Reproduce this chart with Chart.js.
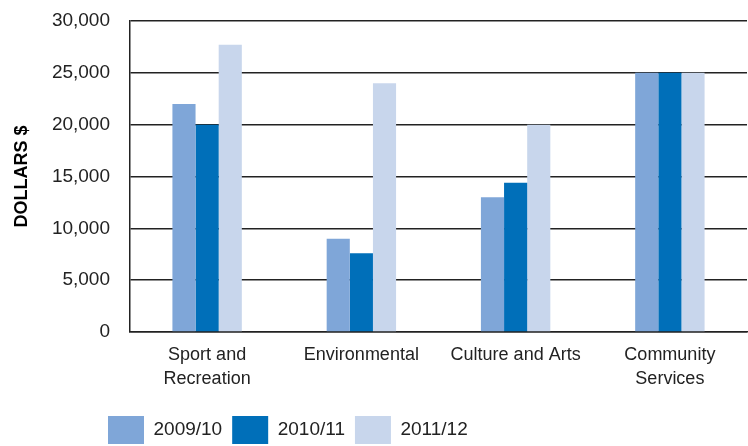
<!DOCTYPE html>
<html>
<head>
<meta charset="utf-8">
<script src="https://cdn.jsdelivr.net/npm/chart.js@4.4.1/dist/chart.umd.min.js"></script>
<style>
  html,body{margin:0;padding:0;background:#fff;}
  #wrap{width:748px;height:446px;position:relative;}
</style>
</head>
<body>
<div id="wrap"><canvas id="chart" width="748" height="446"></canvas></div>
<script>
const categories=[["Sport and","Recreation"],"Environmental","Culture and Arts",["Community","Services"]];
const seriesLabels=["2009/10","2010/11","2011/12"];
const values2009=[22000,9000,13000,25000];
const values2010=[20000,7600,14400,25000];
const values2011=[27700,24000,20000,25000];
const seriesColors=["#7fa6d8","#006fb9","#c8d6ec"];
const yMax=30000, yStep=5000;

const font="'Liberation Sans', Arial, sans-serif";

// move the legend to the left and a bit lower like the original
const legendShift={
  id:"legendShift",
  afterLayout(chart){
    const lg=chart.legend;
    const w=lg.right-lg.left;
    lg.left=98; lg.right=lg.left+w;
    lg.top+=12; lg.bottom+=12;
  }
};

new Chart(document.getElementById("chart").getContext("2d"),{
  type:"bar",
  data:{
    labels:categories,
    datasets:[
      {label:seriesLabels[0],data:values2009,backgroundColor:seriesColors[0]},
      {label:seriesLabels[1],data:values2010,backgroundColor:seriesColors[1]},
      {label:seriesLabels[2],data:values2011,backgroundColor:seriesColors[2]}
    ]
  },
  options:{
    responsive:false,animation:false,
    layout:{padding:{top:21,right:1,left:0,bottom:4}},
    datasets:{bar:{barPercentage:1,categoryPercentage:0.45,borderWidth:0}},
    plugins:{
      legend:{
        position:"bottom",align:"start",
        labels:{boxWidth:36,boxHeight:28,padding:10,color:"#222",font:{family:font,size:19}}
      },
      tooltip:{enabled:false}
    },
    scales:{
      x:{
        grid:{display:false},
        border:{color:"#222",width:1.5},
        ticks:{color:"#222",padding:3,maxRotation:0,font:{family:font,size:18,lineHeight:1.333}}
      },
      y:{
        min:0,max:yMax,
        afterFit(scale){scale.width=130; scale.paddingTop=0; scale.paddingBottom=0;},
        grid:{color:"#222",lineWidth:1.5,drawTicks:false},
        border:{color:"#222",width:1.5},
        ticks:{stepSize:yStep,padding:20,color:"#222",font:{family:font,size:19},
          callback:v=>v.toLocaleString("en-US")},
        title:{display:true,text:"DOLLARS $",color:"#000",font:{family:font,size:18,weight:"bold"},padding:{top:11,bottom:0}}
      }
    }
  },
  plugins:[legendShift]
});
</script>
</body>
</html>
